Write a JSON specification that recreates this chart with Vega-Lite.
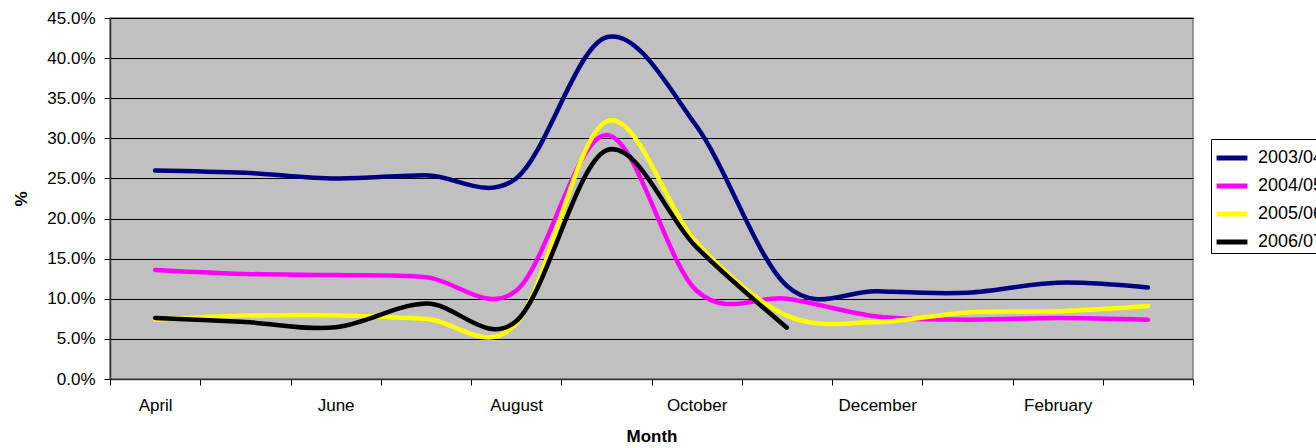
{
  "$schema": "https://vega.github.io/schema/vega-lite/v6.json",
  "autosize": {"type": "none"},
  "width": 1083,
  "height": 361,
  "padding": {"left": 110, "top": 18, "right": 123, "bottom": 69},
  "background": "white",
  "config": {
    "font": "Liberation Sans",
    "view": {"fill": "#C0C0C0", "stroke": "#808080", "strokeWidth": 1.5}
  },
  "data": {
    "values": [
      {"month": "April", "series": "2003/04", "value": 0.260},
      {"month": "May", "series": "2003/04", "value": 0.257},
      {"month": "June", "series": "2003/04", "value": 0.250},
      {"month": "July", "series": "2003/04", "value": 0.254},
      {"month": "August", "series": "2003/04", "value": 0.250},
      {"month": "September", "series": "2003/04", "value": 0.426},
      {"month": "October", "series": "2003/04", "value": 0.315},
      {"month": "November", "series": "2003/04", "value": 0.116},
      {"month": "December", "series": "2003/04", "value": 0.1095},
      {"month": "January", "series": "2003/04", "value": 0.1075},
      {"month": "February", "series": "2003/04", "value": 0.120},
      {"month": "March", "series": "2003/04", "value": 0.114},

      {"month": "April", "series": "2004/05", "value": 0.136},
      {"month": "May", "series": "2004/05", "value": 0.131},
      {"month": "June", "series": "2004/05", "value": 0.1295},
      {"month": "July", "series": "2004/05", "value": 0.127},
      {"month": "August", "series": "2004/05", "value": 0.110},
      {"month": "September", "series": "2004/05", "value": 0.304},
      {"month": "October", "series": "2004/05", "value": 0.110},
      {"month": "November", "series": "2004/05", "value": 0.100},
      {"month": "December", "series": "2004/05", "value": 0.078},
      {"month": "January", "series": "2004/05", "value": 0.074},
      {"month": "February", "series": "2004/05", "value": 0.076},
      {"month": "March", "series": "2004/05", "value": 0.074},

      {"month": "April", "series": "2005/06", "value": 0.074},
      {"month": "May", "series": "2005/06", "value": 0.079},
      {"month": "June", "series": "2005/06", "value": 0.0795},
      {"month": "July", "series": "2005/06", "value": 0.075},
      {"month": "August", "series": "2005/06", "value": 0.069},
      {"month": "September", "series": "2005/06", "value": 0.321},
      {"month": "October", "series": "2005/06", "value": 0.170},
      {"month": "November", "series": "2005/06", "value": 0.079},
      {"month": "December", "series": "2005/06", "value": 0.071},
      {"month": "January", "series": "2005/06", "value": 0.083},
      {"month": "February", "series": "2005/06", "value": 0.0845},
      {"month": "March", "series": "2005/06", "value": 0.091},

      {"month": "April", "series": "2006/07", "value": 0.076},
      {"month": "May", "series": "2006/07", "value": 0.071},
      {"month": "June", "series": "2006/07", "value": 0.0645},
      {"month": "July", "series": "2006/07", "value": 0.094},
      {"month": "August", "series": "2006/07", "value": 0.072},
      {"month": "September", "series": "2006/07", "value": 0.285},
      {"month": "October", "series": "2006/07", "value": 0.164},
      {"month": "November", "series": "2006/07", "value": 0.064}
    ]
  },
  "mark": {"type": "line", "interpolate": "cardinal", "tension": 0, "strokeWidth": 4.5, "strokeCap": "round", "strokeJoin": "round"},
  "encoding": {
    "x": {
      "field": "month",
      "type": "ordinal",
      "sort": ["April", "May", "June", "July", "August", "September", "October", "November", "December", "January", "February", "March"],
      "scale": {"type": "band", "paddingInner": 0, "paddingOuter": 0},
      "bandPosition": 0.5,
      "axis": {
        "title": "Month",
        "titleFont": "Liberation Sans",
        "titleFontSize": 17,
        "titleFontWeight": "bold",
        "titleColor": "black",
        "titlePadding": 15,
        "labelAngle": 0,
        "labelFontSize": 17,
        "labelColor": "black",
        "labelPadding": 12,
        "labelExpr": "indexof(['April','June','August','October','December','February'], datum.value) >= 0 ? datum.label : ''",
        "tickBand": "extent",
        "tickSize": 6,
        "tickColor": "black",
        "domainColor": "#333333",
        "domainWidth": 1.5,
        "grid": false
      }
    },
    "y": {
      "field": "value",
      "type": "quantitative",
      "scale": {"domain": [0, 0.45], "nice": false, "zero": true},
      "axis": {
        "title": "%",
        "titleFont": "Liberation Sans",
        "titleFontSize": 17,
        "titleFontWeight": "bold",
        "titleColor": "black",
        "titlePadding": 16,
        "values": [0, 0.05, 0.1, 0.15, 0.2, 0.25, 0.3, 0.35, 0.4, 0.45],
        "format": ".1%",
        "labelFontSize": 17,
        "labelColor": "black",
        "labelPadding": 9,
        "tickSize": 6,
        "tickColor": "black",
        "domainColor": "#333333",
        "domainWidth": 1.5,
        "grid": true,
        "gridColor": "black",
        "gridWidth": 1,
        "gridOpacity": 1
      }
    },
    "color": {
      "field": "series",
      "type": "nominal",
      "scale": {
        "domain": ["2003/04", "2004/05", "2005/06", "2006/07"],
        "range": ["#000080", "#FF00FF", "#FFFF00", "#000000"]
      },
      "legend": {
        "title": null,
        "orient": "none",
        "legendX": 1101,
        "legendY": 121,
        "symbolType": "stroke",
        "symbolSize": 950,
        "symbolStrokeWidth": 5,
        "symbolOffset": 2,
        "labelFontSize": 18,
        "labelColor": "black",
        "labelOffset": 8,
        "rowPadding": 0,
        "padding": 1,
        "strokeColor": "black",
        "fillColor": "white",
        "labelLimit": 300
      }
    }
  }
}
